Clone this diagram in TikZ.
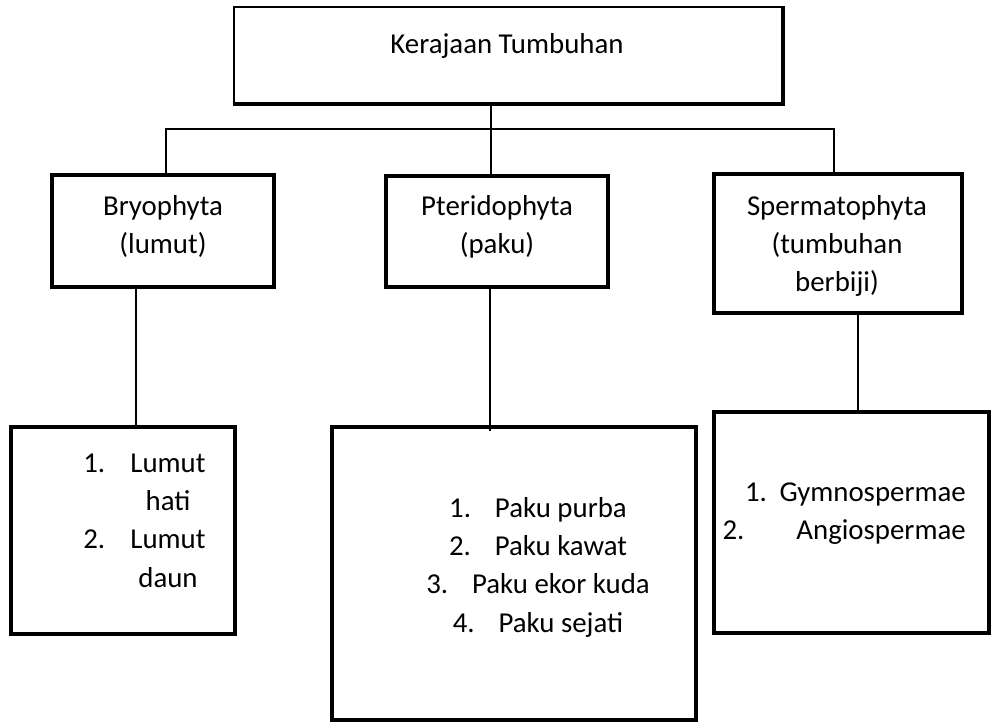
\documentclass[tikz,border=0pt]{standalone}
\usepackage{fontspec}
\setmainfont{Carlito}
\usetikzlibrary{fit,calc}

\begin{document}
\begin{tikzpicture}[x=.025cm,y=-.025cm,
  box/.style={draw,line width=2.8pt,inner sep=0pt},
  lbl/.style={inner sep=0pt,align=center,font=\fontsize{20.5}{27.3}\selectfont},
  link/.style={line width=.9pt}]
\useasboundingbox (0,0) rectangle (992,724);
\node[box,line width=1pt,fit={(234,7)(782,103)}] (kingdom) {};
\draw[line width=2.8pt] (kingdom.south west)--(kingdom.south east)--(kingdom.north east);
\node[box,fit={(52,175)(274,287)}] (bryo) {};
\node[box,fit={(386,176)(608,287)}] (pteri) {};
\node[box,fit={(714,174)(962,313)}] (sperma) {};
\node[box,fit={(11,427)(235,634)}] (lumut) {};
\node[box,fit={(332,427)(696,720)}] (paku) {};
\node[box,fit={(714,412)(989,633)}] (biji) {};

\node[lbl,anchor=base] (kingdomtxt) at (507,53) {Kerajaan Tumbuhan};
\node[lbl,anchor=base] (bryotxt) at (163,215) {\begin{tabular}[t]{@{}c@{}}Bryophyta\\(lumut)\end{tabular}};
\node[lbl,anchor=base] (pteritxt) at (497,215) {\begin{tabular}[t]{@{}c@{}}Pteridophyta\\(paku)\end{tabular}};
\node[lbl,anchor=base] (spermatxt) at (837,215) {\begin{tabular}[t]{@{}c@{}}Spermatophyta\\(tumbuhan\\berbiji)\end{tabular}};

\node[lbl,anchor=base west] (lumutlist) at (83,472) {\begin{tabular}[t]{@{}l@{\hspace{18pt}}c@{}}1. & Lumut\\ & hati\\ 2. & Lumut\\ & daun\end{tabular}};
\node[lbl,anchor=base] (pakulist) at (538,517) {\begin{tabular}[t]{@{}c@{}}1.\hspace{17pt}Paku purba\\2.\hspace{17pt}Paku kawat\\3.\hspace{17pt}Paku ekor kuda\\4.\hspace{17pt}Paku sejati\end{tabular}};
\node[lbl,anchor=base east] (bijilist) at (966,501) {\begin{tabular}[t]{@{}r@{}}1.\hspace{9pt}Gymnospermae\\2.\hspace{37pt}Angiospermae\end{tabular}};

\coordinate (hubL) at (166,129);
\coordinate (hubC) at (491,129);
\coordinate (hubR) at (834,129);
\draw[link] (hubC |- kingdom.south) -- (hubC |- pteri.north);
\draw[link] (hubL |- bryo.north) -- (hubL) -- (hubR) -- (hubR |- sperma.north);

\coordinate (dropL) at (136,360);
\coordinate (dropC) at (490,360);
\coordinate (dropR) at (858,360);
\draw[link] (dropL |- bryo.south) -- (dropL |- lumut.north);
\draw[link] (dropC |- pteri.south) -- ($(dropC |- paku.north)+(0,6)$);
\draw[link] (dropR |- sperma.south) -- (dropR |- biji.north);
\end{tikzpicture}
\end{document}
